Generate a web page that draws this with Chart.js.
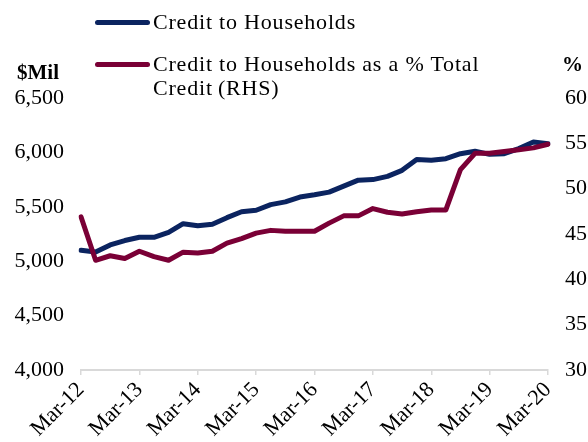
<!DOCTYPE html>
<html>
<head>
<meta charset="utf-8">
<script src="https://cdn.jsdelivr.net/npm/chart.js@4"></script>
<style>
  html, body { margin: 0; padding: 0; background: #fff; }
  #wrap { position: relative; width: 588px; height: 442px; font-family: "Liberation Serif", serif; color: #000; }
  #c { position: absolute; left: 0; top: 0; }
  .lg-line { position: absolute; height: 5px; border-radius: 3px; }
  .lg-text { position: absolute; font-size: 22px; line-height: 24px; letter-spacing: 0.8px; white-space: nowrap; }
  .unit { position: absolute; font-size: 21px; font-weight: bold; line-height: 24px; }
</style>
</head>
<body>
<div id="wrap">
  <canvas id="c" width="588" height="442"></canvas>
</div>
<script>
// ---- data ----
const quarters = [
  "Mar-12","Jun-12","Sep-12","Dec-12",
  "Mar-13","Jun-13","Sep-13","Dec-13",
  "Mar-14","Jun-14","Sep-14","Dec-14",
  "Mar-15","Jun-15","Sep-15","Dec-15",
  "Mar-16","Jun-16","Sep-16","Dec-16",
  "Mar-17","Jun-17","Sep-17","Dec-17",
  "Mar-18","Jun-18","Sep-18","Dec-18",
  "Mar-19","Jun-19","Sep-19","Dec-19",
  "Mar-20"
];
const creditHouseholds = [
  5100, 5085, 5150, 5190,
  5220, 5220, 5265, 5345,
  5325, 5340, 5400, 5455,
  5468, 5520, 5545, 5590,
  5610, 5635, 5690, 5745,
  5750, 5780, 5835, 5935,
  5928, 5942, 5988, 6010,
  5982, 5988, 6035, 6095,
  6080
];
const creditSharePct = [
  46.9, 42.1, 42.6, 42.3,
  43.1, 42.5, 42.1, 43.0,
  42.9, 43.1, 44.0, 44.5,
  45.1, 45.4, 45.3, 45.3,
  45.3, 46.2, 47.0, 47.0,
  47.8, 47.4, 47.2, 47.45,
  47.65, 47.65, 52.1, 53.9,
  53.9, 54.1, 54.3, 54.5,
  54.9
];
const seriesNames = ["Credit to Households", "Credit to Households as a % Total\nCredit\u2009(RHS)"];
const seriesColors = ["#0b2460", "#7a0036"];
const leftTitle = "$Mil";
const rightTitle = "%";

// ---- chart ----
const FONT = "'Liberation Serif', serif";
const chart = new Chart(document.getElementById('c'), {
  type: 'line',
  data: {
    labels: quarters,
    datasets: [
      { label: seriesNames[0], data: creditHouseholds, yAxisID: 'yL',
        borderColor: seriesColors[0], backgroundColor: seriesColors[0],
        borderWidth: 5, pointRadius: 0, tension: 0, borderJoinStyle: 'round', borderCapStyle: 'round', order: 2 },
      { label: seriesNames[1], data: creditSharePct, yAxisID: 'yR',
        borderColor: seriesColors[1], backgroundColor: seriesColors[1],
        borderWidth: 5, pointRadius: 0, tension: 0, borderJoinStyle: 'round', borderCapStyle: 'round', order: 1 }
    ]
  },
  options: {
    responsive: false,
    animation: false,
    devicePixelRatio: 1,
    layout: { padding: { top: 98, left: 0, right: 0, bottom: 0 } },
    plugins: { legend: { display: false }, tooltip: { enabled: false } },
    scales: {
      x: {
        type: 'category',
        offset: false,
        grid: { display: true, drawOnChartArea: false, drawTicks: true, tickLength: 5, color: '#d9d9d9', lineWidth: 1.5 },
        border: { display: true, color: '#d9d9d9', width: 2 },
        ticks: {
          autoSkip: false, minRotation: 45, maxRotation: 45, padding: 2,
          color: '#000', font: { family: FONT, size: 22 },
          callback: function (v, i) { return i % 4 === 0 ? this.getLabelForValue(v) : null; }
        },
        afterFit: function (s) { s.height = 72; }
      },
      yL: {
        position: 'left', min: 4000, max: 6500,
        grid: { display: false, drawTicks: false }, border: { display: false },
        ticks: { stepSize: 500, padding: 17, color: '#000', font: { family: FONT, size: 22 },
          callback: v => v.toLocaleString('en-US') },
        afterFit: function (s) { s.width = 81; }
      },
      yR: {
        position: 'right', min: 30, max: 60,
        grid: { display: false, drawTicks: false }, border: { display: false },
        ticks: { stepSize: 5, padding: 17, color: '#000', font: { family: FONT, size: 22 } },
        afterFit: function (s) { s.width = 40; }
      }
    }
  }
});

// ---- HTML legend & unit titles ----
const wrap = document.getElementById('wrap');
const legendRows = [22, 64];
seriesNames.forEach((name, i) => {
  const ln = document.createElement('div');
  ln.className = 'lg-line';
  ln.style.left = '95px'; ln.style.width = '55px';
  ln.style.top = (legendRows[i] - 2.5) + 'px';
  ln.style.background = seriesColors[i];
  wrap.appendChild(ln);
  name.split('\n').forEach((t, k) => {
    const tx = document.createElement('div');
    tx.className = 'lg-text';
    tx.textContent = t;
    tx.style.left = '153px';
    tx.style.top = (legendRows[i] - 12 + k * 24) + 'px';
    wrap.appendChild(tx);
  });
});
const lt = document.createElement('div');
lt.className = 'unit'; lt.textContent = leftTitle;
lt.style.left = '17px'; lt.style.top = '60px';
wrap.appendChild(lt);
const rt = document.createElement('div');
rt.className = 'unit'; rt.textContent = rightTitle;
rt.style.left = '562px'; rt.style.top = '52px';
wrap.appendChild(rt);
</script>
</body>
</html>
